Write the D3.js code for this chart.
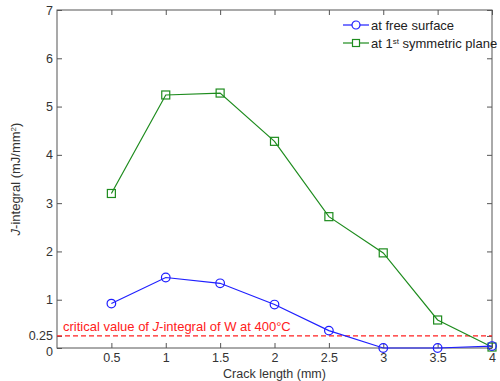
<!DOCTYPE html>
<html>
<head>
<meta charset="utf-8">
<script src="https://cdn.jsdelivr.net/npm/d3@7"></script>
<style>
  body { margin: 0; background: #fff; }
  text { font-family: "Liberation Sans", Arial, sans-serif; }
</style>
</head>
<body>
<div id="chart"></div>
<script>
// crack length (mm)
var crackLength = [0.5, 1, 1.5, 2, 2.5, 3, 3.5, 4];
var freeSurface = [0.92, 1.46, 1.34, 0.9, 0.36, 0, 0, 0.04];
var symPlane = [3.2, 5.24, 5.28, 4.28, 2.72, 1.97, 0.58, 0.02];
var xTicks = [0.5, 1, 1.5, 2, 2.5, 3, 3.5, 4];
var yTicks = [0, 0.25, 1, 2, 3, 4, 5, 6, 7];
var critical = 0.25;

var width = 500, height = 381;
var margin = {left: 57, right: 8, top: 10, bottom: 33};

var svg = d3.select('#chart').append('svg')
    .attr('width', width)
    .attr('height', height);

var x = d3.scaleLinear().domain([0, 4]).range([margin.left, width - margin.right]);
var y = d3.scaleLinear().domain([0, 7]).range([height - margin.bottom, margin.top]);

var axisColor = '#555';

// frame
svg.append('rect')
    .attr('x', x(0)).attr('y', y(7))
    .attr('width', x(4) - x(0)).attr('height', y(0) - y(7))
    .attr('fill', 'none').attr('stroke', axisColor).attr('stroke-width', 1);

// axes with inward ticks
var xAxis = svg.append('g')
    .attr('transform', 'translate(0,' + y(0) + ')')
    .call(d3.axisBottom(x).tickValues(xTicks).tickSizeInner(-5).tickSizeOuter(0).tickPadding(5).tickFormat(d3.format('')));
var xTop = svg.append('g')
    .attr('transform', 'translate(0,' + y(7) + ')')
    .call(d3.axisTop(x).tickValues(xTicks).tickSizeInner(-5).tickSizeOuter(0).tickFormat(''));
var yAxis = svg.append('g')
    .attr('transform', 'translate(' + x(0) + ',0)')
    .call(d3.axisLeft(y).tickValues(yTicks).tickSizeInner(-5).tickSizeOuter(0).tickPadding(4).tickFormat(d3.format('')));
var yRight = svg.append('g')
    .attr('transform', 'translate(' + x(4) + ',0)')
    .call(d3.axisRight(y).tickValues(yTicks).tickSizeInner(-5).tickSizeOuter(0).tickFormat(''));

[xAxis, xTop, yAxis, yRight].forEach(function (g) {
    g.select('.domain').remove();
    g.selectAll('line').attr('stroke', axisColor);
    g.selectAll('text').attr('fill', '#333').style('font-size', '12.5px')
        .style('font-family', '"Liberation Sans", Arial, sans-serif');
});
// the 0 label sits a little lower so it clears 0.25
yAxis.selectAll('.tick').filter(function (d) { return d === 0; })
    .select('text').attr('dy', '0.6em');
yAxis.selectAll('.tick').filter(function (d) { return d === 0.25; })
    .select('text').attr('dy', '0.25em');

// axis labels
svg.append('text')
    .attr('x', (x(0) + x(4)) / 2).attr('y', 378)
    .attr('text-anchor', 'middle').attr('fill', '#333')
    .style('font-size', '12.5px')
    .text('Crack length (mm)');

var yl = svg.append('text')
    .attr('transform', 'translate(20,' + ((y(0) + y(7)) / 2) + ') rotate(-90)')
    .attr('text-anchor', 'middle').attr('fill', '#333')
    .style('font-size', '13px');
yl.append('tspan').style('font-style', 'italic').text('J');
yl.append('tspan').text('-integral (mJ/mm');
yl.append('tspan').attr('baseline-shift', 'super').style('font-size', '8px').text('2');
yl.append('tspan').text(')');

// critical line
svg.append('line')
    .attr('x1', x(0)).attr('x2', x(4))
    .attr('y1', y(critical)).attr('y2', y(critical))
    .attr('stroke', '#ff2020').attr('stroke-width', 1.2)
    .attr('stroke-dasharray', '5,3');
var cl = svg.append('text')
    .attr('x', x(0) + 6).attr('y', y(critical) - 5)
    .attr('fill', '#ff2020').style('font-size', '13px');
cl.append('tspan').text('critical value of ');
cl.append('tspan').style('font-style', 'italic').text('J');
cl.append('tspan').text('-integral of W at 400°C');

var line = d3.line()
    .x(function (d) { return x(d[0]); })
    .y(function (d) { return y(d[1]); });

var blue = '#1f1fff', green = '#1e8c1e';

var ptsBlue = crackLength.map(function (c, i) { return [c, freeSurface[i]]; });
var ptsGreen = crackLength.map(function (c, i) { return [c, symPlane[i]]; });

svg.append('path').datum(ptsGreen).attr('d', line)
    .attr('fill', 'none').attr('stroke', green).attr('stroke-width', 1.2);
svg.append('g').selectAll('rect').data(ptsGreen).enter().append('rect')
    .attr('x', function (d) { return x(d[0]) - 4; })
    .attr('y', function (d) { return y(d[1]) - 4; })
    .attr('width', 8).attr('height', 8)
    .attr('fill', 'none').attr('stroke', green).attr('stroke-width', 1.2);

svg.append('path').datum(ptsBlue).attr('d', line)
    .attr('fill', 'none').attr('stroke', blue).attr('stroke-width', 1.2);
svg.append('g').selectAll('circle').data(ptsBlue).enter().append('circle')
    .attr('cx', function (d) { return x(d[0]); })
    .attr('cy', function (d) { return y(d[1]); })
    .attr('r', 4.3)
    .attr('fill', 'none').attr('stroke', blue).attr('stroke-width', 1.2);

// legend
var lg = svg.append('g').attr('transform', 'translate(343,25)');
lg.append('line').attr('x1', 0).attr('x2', 26).attr('y1', 0).attr('y2', 0)
    .attr('stroke', blue).attr('stroke-width', 1.2);
lg.append('circle').attr('cx', 13).attr('cy', 0).attr('r', 4)
    .attr('fill', '#fff').attr('stroke', blue).attr('stroke-width', 1.2);
lg.append('text').attr('x', 28).attr('y', 4.5).attr('fill', '#222')
    .style('font-size', '13px').text('at free surface');

lg.append('line').attr('x1', 0).attr('x2', 26).attr('y1', 18).attr('y2', 18)
    .attr('stroke', green).attr('stroke-width', 1.2);
lg.append('rect').attr('x', 9.5).attr('y', 14.5).attr('width', 7).attr('height', 7)
    .attr('fill', '#fff').attr('stroke', green).attr('stroke-width', 1.2);
var l2 = lg.append('text').attr('x', 28).attr('y', 22.5).attr('fill', '#222')
    .style('font-size', '13px');
l2.append('tspan').text('at 1');
l2.append('tspan').attr('baseline-shift', 'super').style('font-size', '8px').text('st');
l2.append('tspan').text(' symmetric plane');
</script>
</body>
</html>
